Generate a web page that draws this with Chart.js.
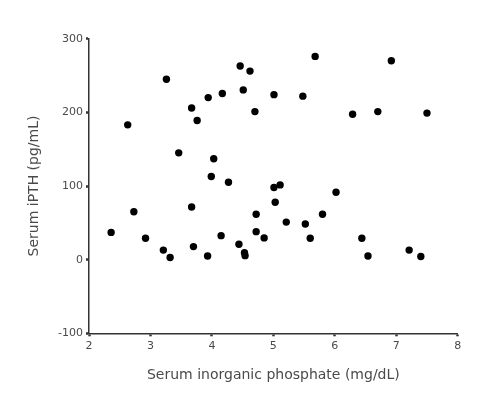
<!DOCTYPE html>
<html>
<head>
<meta charset="utf-8">
<script src="https://cdn.jsdelivr.net/npm/chart.js@4"></script>
<style>
  body { margin: 0; background: #fff; }
  #wrap { width: 488px; height: 401px; }
</style>
</head>
<body>
<div id="wrap"><canvas id="scatter" width="488" height="401"></canvas></div>
<script>
// serum inorganic phosphate (mg/dL) vs serum iPTH (pg/mL)
const phosphate = [2.36, 2.63, 2.73, 2.92, 3.21, 3.26, 3.32, 3.46, 3.67, 3.67, 3.70, 3.76,
  3.93, 3.94, 3.99, 4.03, 4.15, 4.17, 4.27, 4.44, 4.46, 4.51, 4.53, 4.54,
  4.62, 4.70, 4.72, 4.72, 4.85, 5.01, 5.01, 5.03, 5.11, 5.21, 5.48, 5.52,
  5.60, 5.68, 5.80, 6.02, 6.29, 6.44, 6.54, 6.70, 6.92, 7.21, 7.40, 7.50];
const ipth = [37, 183, 65, 29, 13, 245, 3, 145, 206, 71.5, 17.7, 189,
  5, 220, 113, 137, 32.6, 225.5, 105, 21, 263, 230.5, 9.5, 5.4,
  256, 201, 61.7, 38, 29.5, 224, 98, 78, 101.5, 51, 222, 48.5,
  29, 276, 61.7, 91.5, 197.5, 29, 5, 201, 270, 13, 4.3, 199];
const xTicks = [2, 3, 4, 5, 6, 7, 8];
const yTicks = [-100, 0, 100, 200, 300];

const points = phosphate.map((x, i) => ({ x: x, y: ipth[i] }));

const ctx = document.getElementById('scatter').getContext('2d');

const axisColor = '#333';
const textColor = '#4a4a4a';

new Chart(ctx, {
    type: 'scatter',
    data: {
        datasets: [{
            data: points,
            backgroundColor: '#000',
            borderWidth: 0,
            pointRadius: 3.7,
            pointHoverRadius: 3.7
        }]
    },
    options: {
        responsive: false,
        animation: false,
        layout: {
            padding: { top: 38.7, right: 30.3, left: 0, bottom: 0 }
        },
        plugins: {
            legend: { display: false },
            tooltip: { enabled: false }
        },
        scales: {
            x: {
                type: 'linear',
                min: xTicks[0],
                max: xTicks[xTicks.length - 1],
                afterBuildTicks: (scale) => { scale.ticks = xTicks.map(v => ({ value: v })); },
                afterFit: (scale) => { scale.height = 67.7; },
                border: { display: true, color: axisColor, width: 1.5 },
                grid: {
                    drawOnChartArea: false,
                    drawTicks: true,
                    tickLength: 3,
                    tickWidth: 2.5,
                    tickColor: axisColor
                },
                ticks: {
                    color: textColor,
                    padding: 3,
                    font: { family: 'DejaVu Sans', size: 11 }
                },
                title: {
                    display: true,
                    text: 'Serum inorganic phosphate (mg/dL)',
                    color: textColor,
                    padding: { top: 0, bottom: 17 },
                    font: { family: 'DejaVu Sans', size: 14 }
                }
            },
            y: {
                type: 'linear',
                min: yTicks[0],
                max: yTicks[yTicks.length - 1],
                afterBuildTicks: (scale) => { scale.ticks = yTicks.map(v => ({ value: v })); },
                afterFit: (scale) => { scale.width = 89; },
                border: { display: true, color: axisColor, width: 1.5 },
                grid: {
                    drawOnChartArea: false,
                    drawTicks: true,
                    tickLength: 3,
                    tickWidth: 2.5,
                    tickColor: axisColor
                },
                ticks: {
                    color: textColor,
                    padding: 3,
                    font: { family: 'DejaVu Sans', size: 11 }
                },
                title: {
                    display: true,
                    text: 'Serum iPTH (pg/mL)',
                    color: textColor,
                    padding: { top: 26, bottom: 0 },
                    font: { family: 'DejaVu Sans', size: 14 }
                }
            }
        }
    }
});
</script>
</body>
</html>
